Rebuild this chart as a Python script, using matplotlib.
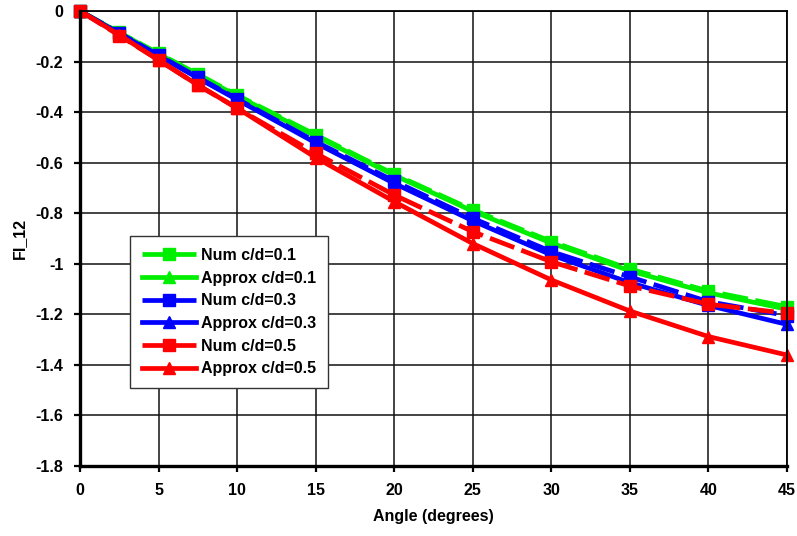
import matplotlib
matplotlib.use("Agg")
import matplotlib.pyplot as plt
from matplotlib import font_manager

angles = [0, 2.5, 5, 7.5, 10, 15, 20, 25, 30, 35, 40, 45]

num_01 = [0, -0.085, -0.168, -0.250, -0.333, -0.490, -0.646, -0.787, -0.912, -1.021, -1.108, -1.170]
approx_01 = [0, -0.086, -0.170, -0.253, -0.336, -0.495, -0.650, -0.792, -0.918, -1.028, -1.115, -1.180]
num_03 = [0, -0.088, -0.175, -0.262, -0.348, -0.517, -0.673, -0.820, -0.952, -1.052, -1.150, -1.205]
approx_03 = [0, -0.089, -0.177, -0.265, -0.351, -0.522, -0.682, -0.830, -0.965, -1.075, -1.165, -1.240]
num_05 = [0, -0.097, -0.194, -0.293, -0.385, -0.563, -0.728, -0.873, -0.992, -1.088, -1.160, -1.196]
approx_05 = [0, -0.095, -0.194, -0.293, -0.384, -0.580, -0.754, -0.920, -1.064, -1.187, -1.288, -1.361]

x_ticks = [0, 5, 10, 15, 20, 25, 30, 35, 40, 45]
y_ticks = [0, -0.2, -0.4, -0.6, -0.8, -1, -1.2, -1.4, -1.6, -1.8]
y_tick_labels = ["0", "-0.2", "-0.4", "-0.6", "-0.8", "-1", "-1.2", "-1.4", "-1.6", "-1.8"]

available = {f.name for f in font_manager.fontManager.ttflist}
narrow = "Liberation Sans Narrow" if "Liberation Sans Narrow" in available else "Liberation Sans"
plt.rcParams["font.family"] = ["Liberation Sans", "DejaVu Sans"]

fig = plt.figure(figsize=(7.97, 5.36), dpi=100)
ax = fig.add_axes([0.1004, 0.1306, 0.8871, 0.8489])

series = [
    (num_01, "Num c/d=0.1", "#00ee00", "s", True),
    (approx_01, "Approx c/d=0.1", "#00ee00", "^", False),
    (num_03, "Num c/d=0.3", "#0000ff", "s", True),
    (approx_03, "Approx c/d=0.3", "#0000ff", "^", False),
    (num_05, "Num c/d=0.5", "#ff0000", "s", True),
    (approx_05, "Approx c/d=0.5", "#ff0000", "^", False),
]

for values, label, color, marker, dashed in series:
    kw = dict(color=color, marker=marker, lw=3.4, label=label,
              markerfacecolor=color, markeredgecolor=color, clip_on=False)
    if dashed:
        ax.plot(angles, values, dashes=(5.5, 1.6), markersize=9, **kw)
    else:
        ax.plot(angles, values, markersize=8, **kw)

ax.set_xlim(0, 45)
ax.set_ylim(-1.8, 0)
ax.set_xticks(x_ticks)
ax.set_yticks(y_ticks)
ax.set_yticklabels(y_tick_labels)
ax.grid(True, color="#111111", lw=1.1)
ax.set_axisbelow(True)
for side in ["left", "bottom"]:
    ax.spines[side].set_linewidth(2.4)
for side in ["top", "right"]:
    ax.spines[side].set_linewidth(1.3)

ax.tick_params(axis="both", direction="out", length=4, width=1.6, pad=8)
for lab in ax.get_xticklabels() + ax.get_yticklabels():
    lab.set_fontfamily([narrow, "DejaVu Sans"])
    lab.set_fontweight("bold")
    lab.set_fontsize(11.5)

ax.set_xlabel("Angle (degrees)", fontsize=11.5, fontweight="bold",
              family=[narrow, "DejaVu Sans"], labelpad=8)
ax.set_ylabel("FI_12", fontsize=11.5, fontweight="bold",
              family=[narrow, "DejaVu Sans"], labelpad=6)

leg = ax.legend(loc="upper left", bbox_to_anchor=(0.0707, 0.5055), frameon=True,
                fancybox=False, edgecolor="#333333", framealpha=1,
                prop={"weight": "bold", "size": 11.5}, handlelength=3.4,
                handletextpad=0.3, labelspacing=0.48, borderpad=0.75,
                borderaxespad=0)
leg.get_frame().set_linewidth(1.0)

fig.savefig("out.png", dpi=100)
